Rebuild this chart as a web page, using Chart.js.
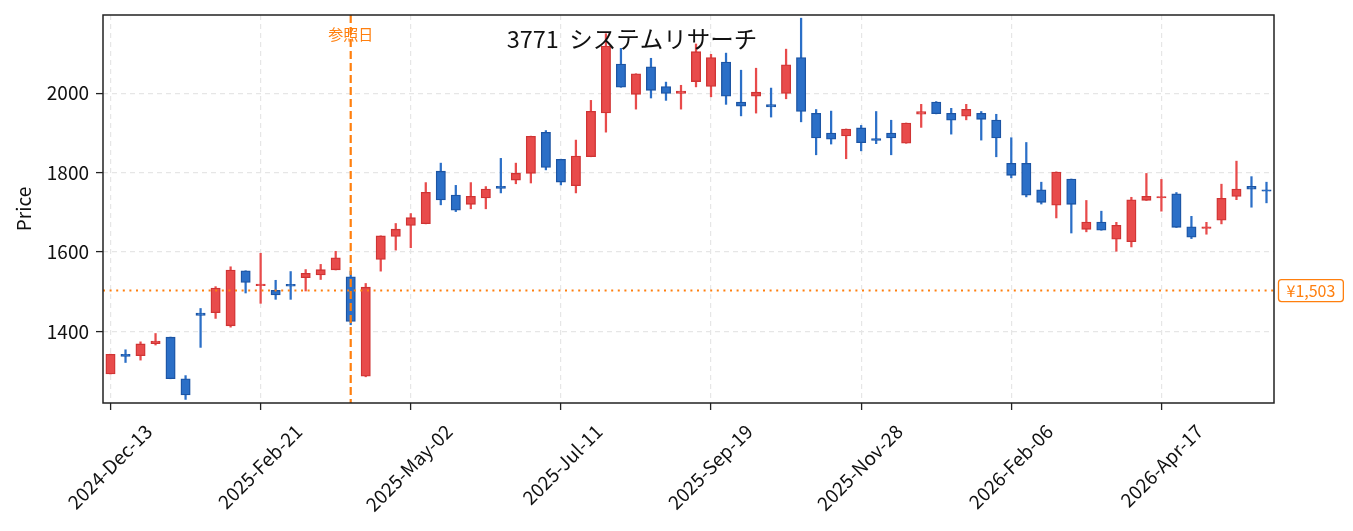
<!DOCTYPE html>
<html>
<head>
<meta charset="utf-8">
<script src="https://cdn.jsdelivr.net/npm/chart.js@4.4.1/dist/chart.umd.min.js"></script>
<style>
    html, body { margin: 0; padding: 0; background: #ffffff; }
    #chartContainer { width: 1353px; height: 531px; }
</style>
</head>
<body>
<div id="chartContainer"><canvas id="myChart" width="1353" height="531"></canvas></div>
<script>
// weekly candles (Friday dates)
const dates = [
    '2024-12-13', '2024-12-20', '2024-12-27', '2025-01-03', '2025-01-10', '2025-01-17', '2025-01-24', '2025-01-31',
    '2025-02-07', '2025-02-14', '2025-02-21', '2025-02-28', '2025-03-07', '2025-03-14', '2025-03-21', '2025-03-28',
    '2025-04-04', '2025-04-11', '2025-04-18', '2025-04-25', '2025-05-02', '2025-05-09', '2025-05-16', '2025-05-23',
    '2025-05-30', '2025-06-06', '2025-06-13', '2025-06-20', '2025-06-27', '2025-07-04', '2025-07-11', '2025-07-18',
    '2025-07-25', '2025-08-01', '2025-08-08', '2025-08-15', '2025-08-22', '2025-08-29', '2025-09-05', '2025-09-12',
    '2025-09-19', '2025-09-26', '2025-10-03', '2025-10-10', '2025-10-17', '2025-10-24', '2025-10-31', '2025-11-07',
    '2025-11-14', '2025-11-21', '2025-11-28', '2025-12-05', '2025-12-12', '2025-12-19', '2025-12-26', '2026-01-02',
    '2026-01-09', '2026-01-16', '2026-01-23', '2026-01-30', '2026-02-06', '2026-02-13', '2026-02-20', '2026-02-27',
    '2026-03-06', '2026-03-13', '2026-03-20', '2026-03-27', '2026-04-03', '2026-04-10', '2026-04-17', '2026-04-24',
    '2026-05-01', '2026-05-08', '2026-05-15', '2026-05-22', '2026-05-29', '2026-06-05'
];

const opens = [
    1294, 1342, 1340, 1370, 1385, 1280, 1446, 1448, 1415, 1552, 1516, 1503, 1518, 1536, 1543, 1556,
    1537, 1288, 1582, 1640, 1668, 1672, 1803, 1743, 1721, 1737, 1765, 1782, 1799, 1901, 1833, 1768,
    1841, 1951, 2073, 1998, 2066, 2016, 2000, 2030, 2018, 2078, 1977, 1993, 1971, 2000, 2089, 1949,
    1899, 1893, 1912, 1885, 1899, 1875, 1948, 1977, 1949, 1943, 1949, 1932, 1823, 1823, 1756, 1719,
    1783, 1658, 1675, 1633, 1627, 1731, 1737, 1746, 1663, 1660, 1681, 1741, 1765, 1756
];
const highs = [
    1343, 1354, 1374, 1395, 1386, 1289, 1458, 1513, 1563, 1553, 1597, 1529, 1551, 1556, 1569, 1602,
    1552, 1521, 1641, 1672, 1697, 1775, 1824, 1768, 1775, 1765, 1836, 1824, 1892, 1906, 1834, 1882,
    1982, 2150, 2113, 2049, 2088, 2028, 2020, 2124, 2098, 2101, 2058, 2063, 2013, 2111, 2189, 1959,
    1955, 1910, 1919, 1954, 1932, 1925, 1972, 1979, 1962, 1972, 1954, 1947, 1888, 1876, 1776, 1802,
    1784, 1730, 1703, 1675, 1738, 1798, 1783, 1750, 1690, 1675, 1771, 1829, 1790, 1776
];
const lows = [
    1293, 1322, 1328, 1366, 1281, 1229, 1360, 1433, 1411, 1497, 1471, 1481, 1481, 1502, 1531, 1555,
    1417, 1286, 1552, 1605, 1611, 1671, 1719, 1702, 1709, 1709, 1749, 1772, 1774, 1807, 1769, 1749,
    1840, 1902, 2015, 1960, 1988, 1982, 1960, 2016, 1991, 1972, 1943, 1950, 1940, 1986, 1928, 1845,
    1872, 1835, 1855, 1873, 1845, 1874, 1914, 1948, 1897, 1933, 1882, 1840, 1787, 1739, 1721, 1686,
    1648, 1651, 1655, 1602, 1613, 1730, 1703, 1662, 1634, 1645, 1671, 1732, 1713, 1724
];
const closes = [
    1342, 1338, 1368, 1375, 1282, 1241, 1441, 1509, 1554, 1524, 1519, 1493, 1515, 1546, 1555, 1585,
    1426, 1511, 1640, 1657, 1686, 1750, 1732, 1706, 1740, 1758, 1761, 1798, 1891, 1814, 1777, 1841,
    1954, 2118, 2016, 2048, 2008, 2000, 2005, 2104, 2089, 1993, 1968, 2002, 1966, 2071, 1955, 1888,
    1885, 1909, 1876, 1882, 1888, 1924, 1953, 1949, 1933, 1959, 1935, 1888, 1794, 1744, 1726, 1801,
    1721, 1675, 1656, 1667, 1731, 1740, 1739, 1663, 1638, 1663, 1735, 1758, 1759, 1754
];

const xTickDates = ['2024-12-13', '2025-02-21', '2025-05-02', '2025-07-11', '2025-09-19', '2025-11-28', '2026-02-06', '2026-04-17'];
const yTicks = [1400, 1600, 1800, 2000];

const refDate = '2025-04-04';
const refPrice = 1503;
const chartTitle = '3771  システムリサーチ';

const FONT = "'Noto Sans CJK JP', 'Noto Sans', sans-serif";
const ORANGE = '#ff7f0e';
const UP_FILL = '#e84b4b';
const UP_EDGE = '#cf3434';
const DOWN_FILL = '#2b6fc7';
const DOWN_EDGE = '#1c54a3';

const monthNames = ['Jan', 'Feb', 'Mar', 'Apr', 'May', 'Jun', 'Jul', 'Aug', 'Sep', 'Oct', 'Nov', 'Dec'];

function formatDate(iso) {
    const parts = iso.split('-');
    return parts[0] + '-' + monthNames[parseInt(parts[1], 10) - 1] + '-' + parts[2];
}

const isUp = closes.map((c, i) => c >= opens[i]);
const fills = isUp.map(u => u ? UP_FILL : DOWN_FILL);
const edges = isUp.map(u => u ? UP_EDGE : DOWN_EDGE);

// reference lines, labels, title and frame
const overlayPlugin = {
    id: 'overlay',
    afterDatasetsDraw(chart) {
        const ctx = chart.ctx;
        const area = chart.chartArea;
        const xScale = chart.scales.x;
        const yScale = chart.scales.y;

        const yRef = yScale.getPixelForValue(refPrice);
        const xRef = xScale.getPixelForValue(dates.indexOf(refDate));

        ctx.save();
        ctx.strokeStyle = ORANGE;
        ctx.lineWidth = 2;
        ctx.setLineDash([2, 4.6]);
        ctx.beginPath();
        ctx.moveTo(area.left, yRef);
        ctx.lineTo(area.right, yRef);
        ctx.stroke();

        ctx.lineWidth = 2.2;
        ctx.setLineDash([8, 4]);
        ctx.beginPath();
        ctx.moveTo(xRef, area.top);
        ctx.lineTo(xRef, area.bottom);
        ctx.stroke();
        ctx.setLineDash([]);

        ctx.fillStyle = ORANGE;
        ctx.font = '15px ' + FONT;
        ctx.textAlign = 'center';
        ctx.textBaseline = 'middle';
        ctx.fillText('参照日', xRef, 34.5);

        // price box on the right
        const priceText = '¥' + refPrice.toLocaleString('en-US');
        ctx.font = '16px ' + FONT;
        const tw = ctx.measureText(priceText).width;
        const bx = area.right + 4.5;
        const bw = tw + 16;
        const bh = 22;
        const by = yRef - bh / 2;
        ctx.beginPath();
        ctx.roundRect(bx, by, bw, bh, 3);
        ctx.fillStyle = '#ffffff';
        ctx.fill();
        ctx.lineWidth = 1.3;
        ctx.strokeStyle = ORANGE;
        ctx.stroke();
        ctx.fillStyle = ORANGE;
        ctx.fillText(priceText, bx + bw / 2, yRef + 0.5);

        ctx.fillStyle = '#111111';
        ctx.font = '23.5px ' + FONT;
        ctx.textBaseline = 'alphabetic';
        ctx.fillText(chartTitle, 632, 47.5);
        ctx.restore();
    },
    afterDraw(chart) {
        const ctx = chart.ctx;
        const a = chart.chartArea;
        ctx.save();
        ctx.strokeStyle = '#222222';
        ctx.lineWidth = 1.5;
        ctx.strokeRect(a.left, a.top, a.right - a.left, a.bottom - a.top);
        ctx.restore();
    }
};

let myChart = null;

function createChart() {
    if (myChart !== null) {
        myChart.destroy();
    }

    const ctx = document.getElementById('myChart').getContext('2d');
    myChart = new Chart(ctx, {
        type: 'bar',
        data: {
            labels: dates,
            datasets: [
                {
                    label: 'wick',
                    data: lows.map((l, i) => [l, highs[i]]),
                    backgroundColor: fills,
                    borderWidth: 0,
                    barThickness: 1.6,
                    grouped: false,
                    order: 2
                },
                {
                    label: 'body',
                    data: opens.map((o, i) => [o, closes[i]]),
                    backgroundColor: fills,
                    borderColor: edges,
                    borderWidth: 1.3,
                    borderSkipped: false,
                    barThickness: 8.8,
                    inflateAmount: 0.6,
                    grouped: false,
                    order: 1
                }
            ]
        },
        options: {
            responsive: false,
            animation: false,
            devicePixelRatio: 1,
            layout: {
                padding: { left: 0, top: 15, right: 79, bottom: 0 }
            },
            plugins: {
                legend: { display: false },
                tooltip: { enabled: false }
            },
            scales: {
                x: {
                    type: 'category',
                    offset: true,
                    grid: {
                        offset: false,
                        color: '#e6e6e6',
                        lineWidth: 1.2,
                        tickColor: '#222222',
                        tickWidth: 1.3,
                        tickLength: 7,
                        tickBorderDash: []
                    },
                    border: { display: false, dash: [5, 4] },
                    ticks: {
                        autoSkip: false,
                        minRotation: 45,
                        maxRotation: 45,
                        labelOffset: 38,
                        padding: 10,
                        color: '#111111',
                        font: { family: FONT, size: 19 },
                        callback: function (value) {
                            return formatDate(this.getLabelForValue(value));
                        }
                    },
                    afterBuildTicks: (scale) => {
                        scale.ticks = xTickDates.map(d => ({ value: dates.indexOf(d) }));
                    },
                    afterFit: (scale) => {
                        scale.height = 128;
                        scale.paddingLeft = 0;
                        scale.paddingRight = 0;
                    }
                },
                y: {
                    min: 1220,
                    max: 2197,
                    grid: {
                        color: '#e6e6e6',
                        lineWidth: 1.2,
                        tickColor: '#222222',
                        tickWidth: 1.3,
                        tickLength: 7,
                        tickBorderDash: []
                    },
                    border: { display: false, dash: [5, 4] },
                    ticks: {
                        padding: 7,
                        color: '#111111',
                        font: { family: FONT, size: 19 },
                        callback: (value) => String(value)
                    },
                    afterBuildTicks: (scale) => {
                        scale.ticks = yTicks.map(v => ({ value: v }));
                    },
                    afterFit: (scale) => {
                        scale.width = 103;
                        scale.paddingTop = 0;
                        scale.paddingBottom = 0;
                    },
                    title: {
                        display: true,
                        text: 'Price',
                        color: '#111111',
                        font: { family: FONT, size: 19 },
                        padding: { top: 12, bottom: 0 }
                    }
                }
            }
        },
        plugins: [overlayPlugin]
    });
}

createChart();
</script>
</body>
</html>
